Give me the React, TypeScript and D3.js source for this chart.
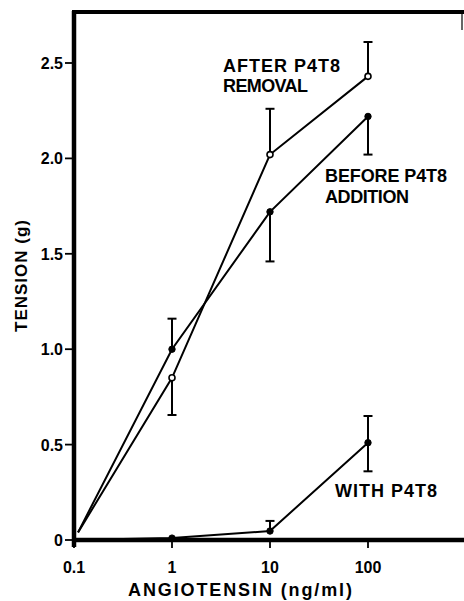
import React from "react";
import * as d3 from "d3";

const W = 464;
const H = 601;

// Data
const doses = [0.11, 1, 10, 100];
const afterRemoval = [0.04, 0.85, 2.02, 2.43];
const afterUpper: (number | null)[] = [null, null, 2.26, 2.61];
const afterLower: (number | null)[] = [null, 0.655, null, null];

const beforeAddition = [0.04, 1.0, 1.72, 2.22];
const beforeUpper: (number | null)[] = [null, 1.16, null, null];
const beforeLower: (number | null)[] = [null, null, 1.46, 2.02];

const withDoses = [0.1, 1, 10, 100];
const withP4T8 = [0.0, 0.01, 0.047, 0.51];
const withUpper: (number | null)[] = [null, null, 0.1, 0.65];
const withLower: (number | null)[] = [null, null, null, 0.36];

const xTicks = [0.1, 1, 10, 100];
const xTickLabels = ["0.1", "1", "10", "100"];
const yTicks = [0, 0.5, 1.0, 1.5, 2.0, 2.5];
const yTickLabels = ["0", "0.5", "1.0", "1.5", "2.0", "2.5"];

const FONT = "'Liberation Sans', Arial, Helvetica, sans-serif";

export default function App() {
  const x = d3.scaleLog().domain([0.1, 1000]).range([74, 466]);
  const y = d3.scaleLinear().domain([0, 2.5]).range([540, 63]);
  const line = d3
    .line<[number, number]>()
    .x((d) => x(d[0]))
    .y((d) => y(d[1]));

  const series = [
    { xs: doses, ys: afterRemoval, up: afterUpper, lo: afterLower, open: true, skipFirst: true },
    { xs: doses, ys: beforeAddition, up: beforeUpper, lo: beforeLower, open: false, skipFirst: true },
    { xs: withDoses, ys: withP4T8, up: withUpper, lo: withLower, open: false, skipFirst: true },
  ];

  const cap = 4.5;

  return (
    <svg width={W} height={H} style={{ position: "absolute", left: 0, top: 0, background: "#fff" }}>
      <rect x={0} y={0} width={W} height={H} fill="#fff" />
      {/* frame */}
      <line x1={74} y1={11} x2={74} y2={547} stroke="#000" strokeWidth={4.5} />
      <line x1={72} y1={12} x2={464} y2={12} stroke="#000" strokeWidth={4} />
      <line x1={462} y1={12} x2={462} y2={30} stroke="#000" strokeWidth={1.2} />
      <line x1={72} y1={540} x2={464} y2={540} stroke="#000" strokeWidth={4.5} />

      {/* y ticks */}
      {yTicks.map((t, i) => (
        <g key={"y" + i}>
          <line x1={65} x2={74} y1={y(t)} y2={y(t)} stroke="#000" strokeWidth={1.8} />
          <text
            x={63}
            y={y(t) + 6}
            textAnchor="end"
            fontFamily={FONT}
            fontWeight="bold"
            fontSize={16}
            fill="#000"
          >
            {yTickLabels[i]}
          </text>
        </g>
      ))}

      {/* x ticks */}
      {xTicks.map((t, i) => (
        <g key={"x" + i}>
          <line x1={x(t)} x2={x(t)} y1={540} y2={548} stroke="#000" strokeWidth={1.8} />
          <text
            x={x(t)}
            y={573}
            textAnchor="middle"
            fontFamily={FONT}
            fontWeight="bold"
            fontSize={16}
            fill="#000"
          >
            {xTickLabels[i]}
          </text>
        </g>
      ))}

      {/* lines */}
      {series.map((s, si) => (
        <path
          key={"l" + si}
          d={line(s.xs.map((v, i) => [v, s.ys[i]] as [number, number])) || ""}
          fill="none"
          stroke="#000"
          strokeWidth={2}
        />
      ))}

      {/* error bars */}
      {series.map((s, si) =>
        s.xs.map((v, i) => {
          const px = x(v);
          const py = y(s.ys[i]);
          const els: React.ReactNode[] = [];
          const u = s.up[i];
          const l = s.lo[i];
          if (u != null) {
            els.push(<line key="u" x1={px} x2={px} y1={py} y2={y(u)} stroke="#000" strokeWidth={2} />);
            els.push(
              <line key="uc" x1={px - cap} x2={px + cap} y1={y(u)} y2={y(u)} stroke="#000" strokeWidth={2} />
            );
          }
          if (l != null) {
            els.push(<line key="l" x1={px} x2={px} y1={py} y2={y(l)} stroke="#000" strokeWidth={2} />);
            els.push(
              <line key="lc" x1={px - cap} x2={px + cap} y1={y(l)} y2={y(l)} stroke="#000" strokeWidth={2} />
            );
          }
          return <g key={"e" + si + "-" + i}>{els}</g>;
        })
      )}

      {/* markers */}
      {series.map((s, si) =>
        s.xs.map((v, i) =>
          s.skipFirst && i === 0 ? null : (
            <circle
              key={"m" + si + "-" + i}
              cx={x(v)}
              cy={y(s.ys[i])}
              r={s.open ? 3 : 3.2}
              fill={s.open ? "#fff" : "#000"}
              stroke="#000"
              strokeWidth={s.open ? 1.6 : 1}
            />
          )
        )
      )}

      {/* annotations */}
      <g fontFamily={FONT} fontWeight="bold" fontSize={18} fill="#000">
        <text x={223} y={72} textLength={117} lengthAdjust="spacing">AFTER P4T8</text>
        <text x={223} y={92} textLength={85} lengthAdjust="spacing">REMOVAL</text>
        <text x={325} y={182} textLength={122} lengthAdjust="spacing">BEFORE P4T8</text>
        <text x={325} y={203} textLength={84} lengthAdjust="spacing">ADDITION</text>
        <text x={335} y={497} textLength={102} lengthAdjust="spacing">WITH P4T8</text>
      </g>

      {/* axis titles */}
      <text
        x={240}
        y={596}
        textAnchor="middle"
        fontFamily={FONT}
        fontWeight="bold"
        fontSize={18}
        textLength={224}
        lengthAdjust="spacing"
      >
        ANGIOTENSIN (ng/ml)
      </text>
      <text
        transform={`translate(27,276) rotate(-90)`}
        textAnchor="middle"
        fontFamily={FONT}
        fontWeight="bold"
        fontSize={17}
        textLength={112}
        lengthAdjust="spacing"
      >
        TENSION (g)
      </text>
    </svg>
  );
}
